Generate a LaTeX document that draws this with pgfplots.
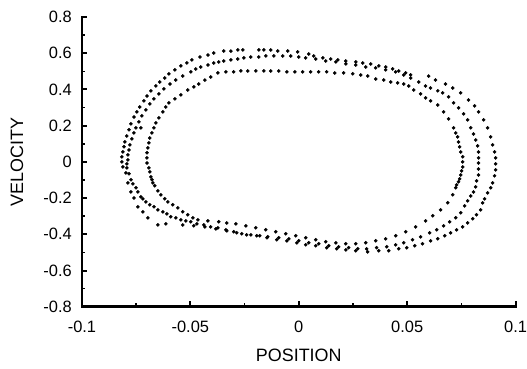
\documentclass[border=0pt]{standalone}
\usepackage{fontspec}
\setmainfont{Liberation Sans}
\usepackage{pgfplots}
\pgfplotsset{compat=1.18}
\begin{document}
\begin{tikzpicture}
\begin{axis}[
  name=ax,
  at={(0,0)}, anchor=south west,
  scale only axis,
  width=434bp, height=290bp,
  xmin=-0.1, xmax=0.1, ymin=-0.8, ymax=0.8,
  axis lines*=left,
  axis line style={line width=2.6bp, -},
  xtick pos=bottom, ytick pos=left,
  tick align=inside,
  xtick={-0.1,-0.05,0,0.05,0.1},
  xticklabels={-0.1,-0.05,0,0.05,0.1},
  ytick={-0.8,-0.6,-0.4,-0.2,0,0.2,0.4,0.6,0.8},
  yticklabels={-0.8,-0.6,-0.4,-0.2,0,0.2,0.4,0.6,0.8},
  minor x tick num=1, minor y tick num=1,
  major tick length=5.5bp, minor tick length=3.5bp,
  every major tick/.style={line width=2bp, black},
  every minor tick/.style={line width=1.6bp, black},
  tick label style={font=\fontsize{16.5}{19}\selectfont},
  xticklabel style={inner sep=0pt, anchor=north, yshift=-14bp},
  yticklabel style={inner sep=0pt, anchor=east, xshift=-10bp},
  xlabel={POSITION}, ylabel={VELOCITY},
  every axis x label/.style={at={(rel axis cs:0.5,0)}, yshift=-49bp, anchor=center, font=\fontsize{18}{21}\selectfont},
  every axis y label/.style={at={(rel axis cs:0,0.5)}, xshift=-65bp, rotate=90, anchor=center, font=\fontsize{18}{21}\selectfont},
  clip=false,
]
\draw[line width=2.6bp, black, line cap=rect] (rel axis cs:0,1) -- (rel axis cs:0,0) -- (rel axis cs:1,0);
% outer loop
\addplot[black, only marks, mark=*, mark size=1.6pt, mark options={draw=black, fill=black}] coordinates {
(-0.0816,0) (-0.0816,0.028) (-0.0811,0.055) (-0.0806,0.083) (-0.0802,0.110) (-0.0793,0.143) (-0.0783,0.177) (-0.0774,0.210) (-0.0760,0.248) (-0.0747,0.276) (-0.0733,0.303) (-0.0714,0.337) (-0.0700,0.364) (-0.0682,0.392) (-0.0659,0.419) (-0.0641,0.441) (-0.0618,0.463) (-0.0599,0.486) (-0.0571,0.508) (-0.0544,0.530) (-0.0516,0.546) (-0.0493,0.563) (-0.0456,0.579) (-0.0419,0.590) (-0.0392,0.601) (-0.0346,0.612) (-0.0313,0.612) (-0.0281,0.618) (-0.0258,0.618) (-0.0184,0.618) (-0.0161,0.618) (-0.0129,0.618) (-0.0097,0.612) (-0.0051,0.612) (-0.0005,0.607) (0.0046,0.596) (0.0069,0.585) (0.0111,0.574) (0.0147,0.568) (0.0180,0.563) (0.0217,0.557) (0.0263,0.552) (0.0295,0.546) (0.0332,0.541) (0.0369,0.530) (0.0401,0.524) (0.0433,0.513) (0.0461,0.502) (0.0493,0.491) (0.0516,0.480) (0.0599,0.474) (0.0631,0.452) (0.0677,0.430) (0.0710,0.408) (0.0747,0.381) (0.0783,0.342) (0.0811,0.309) (0.0829,0.276) (0.0853,0.232) (0.0871,0.188) (0.0885,0.138) (0.0894,0.094) (0.0903,0.055) (0.0908,0.022) (0.0908,-0.011) (0.0908,-0.044) (0.0903,-0.077) (0.0894,-0.116) (0.0885,-0.143) (0.0871,-0.171) (0.0857,-0.204) (0.0848,-0.226) (0.0839,-0.265) (0.0820,-0.292) (0.0802,-0.314) (0.0779,-0.337) (0.0756,-0.359) (0.0728,-0.375) (0.0700,-0.392) (0.0673,-0.408) (0.0641,-0.425) (0.0608,-0.436) (0.0571,-0.452) (0.0535,-0.463) (0.0498,-0.474) (0.0461,-0.480) (0.0415,-0.491) (0.0369,-0.491) (0.0318,-0.497) (0.0263,-0.491) (0.0217,-0.486) (0.0175,-0.480) (0.0129,-0.474) (0.0078,-0.463) (0.0032,-0.458) (-0.0009,-0.447) (-0.0055,-0.436) (-0.0101,-0.430) (-0.0147,-0.419) (-0.0194,-0.408) (-0.0240,-0.403) (-0.0286,-0.392) (-0.0332,-0.381) (-0.0382,-0.370) (-0.0433,-0.359) (-0.0484,-0.353) (-0.0535,-0.348) (-0.0613,-0.342) (-0.0650,-0.348) (-0.0696,-0.309) (-0.0719,-0.276) (-0.0742,-0.248) (-0.0760,-0.199) (-0.0774,-0.166) (-0.0788,-0.116) (-0.0797,-0.061) (-0.0811,-0.028)
};
% middle loop
\addplot[black, only marks, mark=*, mark size=1.6pt, mark options={draw=black, fill=black}] coordinates {
(-0.0788,0.011) (-0.0788,0.039) (-0.0783,0.066) (-0.0779,0.094) (-0.0770,0.127) (-0.0760,0.160) (-0.0751,0.188) (-0.0737,0.221) (-0.0724,0.254) (-0.0705,0.287) (-0.0687,0.320) (-0.0668,0.348) (-0.0645,0.375) (-0.0622,0.403) (-0.0594,0.430) (-0.0567,0.452) (-0.0535,0.474) (-0.0498,0.497) (-0.0475,0.513) (-0.0452,0.524) (-0.0419,0.535) (-0.0392,0.546) (-0.0369,0.552) (-0.0346,0.557) (-0.0313,0.563) (-0.0281,0.568) (-0.0253,0.574) (-0.0221,0.579) (-0.0184,0.579) (-0.0152,0.585) (-0.0115,0.585) (-0.0074,0.585) (-0.0037,0.585) (0,0.579) (0.0032,0.574) (0.0078,0.568) (0.0124,0.557) (0.0171,0.552) (0.0217,0.541) (0.0263,0.535) (0.0309,0.524) (0.0355,0.519) (0.0401,0.508) (0.0447,0.497) (0.0484,0.480) (0.0516,0.463) (0.0553,0.441) (0.0585,0.419) (0.0608,0.408) (0.0641,0.392) (0.0664,0.381) (0.0691,0.359) (0.0714,0.326) (0.0737,0.298) (0.0760,0.265) (0.0779,0.232) (0.0793,0.188) (0.0806,0.154) (0.0816,0.121) (0.0825,0.088) (0.0829,0.055) (0.0829,0.022) (0.0829,-0.006) (0.0829,-0.039) (0.0829,-0.072) (0.0820,-0.105) (0.0816,-0.138) (0.0806,-0.166) (0.0793,-0.188) (0.0779,-0.215) (0.0765,-0.243) (0.0747,-0.281) (0.0724,-0.309) (0.0696,-0.331) (0.0668,-0.353) (0.0636,-0.375) (0.0604,-0.392) (0.0562,-0.414) (0.0525,-0.430) (0.0484,-0.447) (0.0447,-0.458) (0.0406,-0.469) (0.0359,-0.474) (0.0313,-0.480) (0.0272,-0.480) (0.0230,-0.474) (0.0184,-0.469) (0.0138,-0.463) (0.0092,-0.452) (0.0046,-0.447) (0,-0.436) (-0.0046,-0.425) (-0.0092,-0.419) (-0.0143,-0.414) (-0.0180,-0.408) (-0.0221,-0.403) (-0.0263,-0.397) (-0.0300,-0.386) (-0.0336,-0.375) (-0.0373,-0.364) (-0.0406,-0.359) (-0.0438,-0.348) (-0.0470,-0.342) (-0.0498,-0.331) (-0.0521,-0.326) (-0.0544,-0.320) (-0.0567,-0.309) (-0.0590,-0.303) (-0.0608,-0.287) (-0.0627,-0.276) (-0.0650,-0.265) (-0.0668,-0.248) (-0.0687,-0.237) (-0.0705,-0.221) (-0.0719,-0.204) (-0.0728,-0.193) (-0.0742,-0.166) (-0.0751,-0.143) (-0.0765,-0.121) (-0.0774,-0.099) (-0.0783,-0.066) (-0.0793,-0.033) (-0.0793,-0.011)
};
% inner loop
\addplot[black, only marks, mark=*, mark size=1.6pt, mark options={draw=black, fill=black}] coordinates {
(-0.0700,-0.006) (-0.0700,0.022) (-0.0700,0.050) (-0.0696,0.077) (-0.0691,0.105) (-0.0687,0.132) (-0.0677,0.160) (-0.0668,0.188) (-0.0659,0.215) (-0.0645,0.243) (-0.0627,0.276) (-0.0613,0.303) (-0.0599,0.326) (-0.0571,0.348) (-0.0544,0.370) (-0.0512,0.397) (-0.0484,0.414) (-0.0461,0.430) (-0.0433,0.452) (-0.0406,0.469) (-0.0373,0.491) (-0.0336,0.497) (-0.0300,0.497) (-0.0267,0.502) (-0.0235,0.502) (-0.0198,0.502) (-0.0161,0.502) (-0.0129,0.502) (-0.0092,0.502) (-0.0055,0.497) (-0.0018,0.497) (0.0018,0.497) (0.0055,0.497) (0.0092,0.497) (0.0129,0.497) (0.0166,0.491) (0.0207,0.491) (0.0249,0.486) (0.0286,0.480) (0.0318,0.474) (0.0355,0.458) (0.0392,0.452) (0.0424,0.441) (0.0456,0.436) (0.0484,0.430) (0.0507,0.419) (0.0530,0.397) (0.0562,0.375) (0.0585,0.353) (0.0608,0.337) (0.0641,0.314) (0.0668,0.276) (0.0691,0.237) (0.0714,0.188) (0.0724,0.160) (0.0733,0.138) (0.0737,0.110) (0.0742,0.083) (0.0747,0.055) (0.0756,0.028) (0.0756,0) (0.0756,-0.028) (0.0751,-0.050) (0.0747,-0.072) (0.0742,-0.094) (0.0737,-0.110) (0.0728,-0.127) (0.0724,-0.143) (0.0710,-0.182) (0.0687,-0.226) (0.0654,-0.265) (0.0618,-0.298) (0.0585,-0.326) (0.0539,-0.359) (0.0493,-0.386) (0.0447,-0.408) (0.0401,-0.425) (0.0355,-0.436) (0.0309,-0.447) (0.0263,-0.452) (0.0217,-0.452) (0.0171,-0.447) (0.0124,-0.441) (0.0078,-0.430) (0.0032,-0.419) (-0.0014,-0.408) (-0.0060,-0.397) (-0.0106,-0.386) (-0.0152,-0.375) (-0.0198,-0.364) (-0.0244,-0.353) (-0.0290,-0.342) (-0.0332,-0.337) (-0.0369,-0.331) (-0.0419,-0.326) (-0.0465,-0.320) (-0.0488,-0.309) (-0.0512,-0.292) (-0.0535,-0.276) (-0.0558,-0.254) (-0.0581,-0.237) (-0.0604,-0.221) (-0.0618,-0.204) (-0.0636,-0.182) (-0.0650,-0.160) (-0.0664,-0.132) (-0.0673,-0.116) (-0.0677,-0.099) (-0.0682,-0.083) (-0.0687,-0.055) (-0.0691,-0.033) (-0.0728,0.188)
};
\end{axis}
\path (ax.south west) ++(-82bp,-62bp) rectangle ++(527bp,369bp);
\end{tikzpicture}
\end{document}
